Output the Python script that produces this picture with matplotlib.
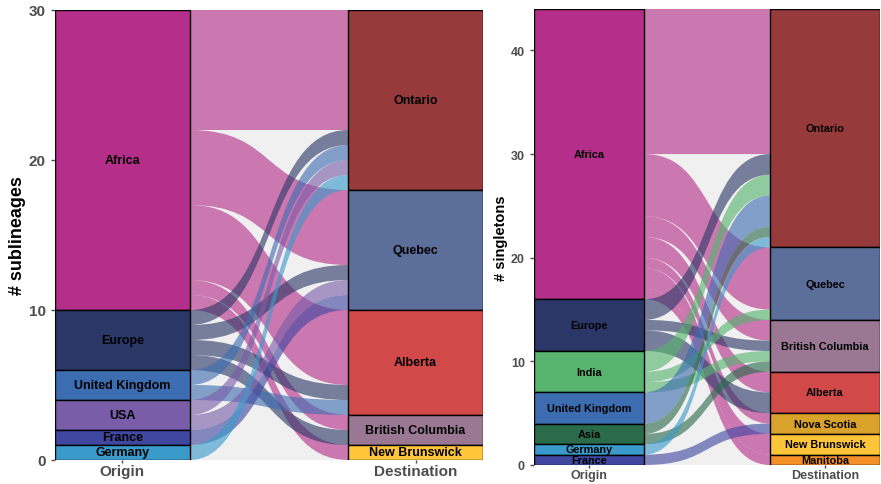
import matplotlib
matplotlib.use("Agg")
import matplotlib.pyplot as plt
from matplotlib.path import Path
from matplotlib.patches import PathPatch, Rectangle

plt.rcParams['font.family'] = ['Liberation Sans', 'DejaVu Sans']

# ---- left panel: sublineages ----
sub_origins = ["Africa", "Europe", "United Kingdom", "USA", "France", "Germany"]
sub_origin_n = [20, 4, 2, 2, 1, 1]
sub_dests = ["Ontario", "Quebec", "Alberta", "British Columbia", "New Brunswick"]
sub_dest_n = [12, 8, 7, 2, 1]
sub_flows = [
    ("Africa", "Ontario", 8), ("Africa", "Quebec", 5), ("Africa", "Alberta", 5),
    ("Africa", "British Columbia", 1), ("Africa", "New Brunswick", 1),
    ("Europe", "Ontario", 1), ("Europe", "Quebec", 1), ("Europe", "Alberta", 1),
    ("Europe", "British Columbia", 1),
    ("United Kingdom", "Ontario", 1), ("United Kingdom", "Alberta", 1),
    ("USA", "Ontario", 1), ("USA", "Quebec", 1),
    ("France", "Quebec", 1),
    ("Germany", "Ontario", 1),
]

# ---- right panel: singletons ----
sing_origins = ["Africa", "Europe", "India", "United Kingdom", "Asia", "Germany", "France"]
sing_origin_n = [28, 5, 4, 3, 2, 1, 1]
sing_dests = ["Ontario", "Quebec", "British Columbia", "Alberta", "Nova Scotia",
              "New Brunswick", "Manitoba"]
sing_dest_n = [23, 7, 5, 4, 2, 2, 1]
sing_flows = [
    ("Africa", "Ontario", 14), ("Africa", "Quebec", 6), ("Africa", "British Columbia", 2),
    ("Africa", "Alberta", 2), ("Africa", "Nova Scotia", 1), ("Africa", "New Brunswick", 2),
    ("Africa", "Manitoba", 1),
    ("Europe", "Ontario", 2), ("Europe", "British Columbia", 1), ("Europe", "Alberta", 2),
    ("India", "Ontario", 2), ("India", "Quebec", 1), ("India", "British Columbia", 1),
    ("United Kingdom", "Ontario", 3),
    ("Asia", "Ontario", 1), ("Asia", "British Columbia", 1),
    ("Germany", "Ontario", 1),
    ("France", "Nova Scotia", 1),
]

colors = {
    "Africa": "#B52E8A", "Europe": "#2B3867", "United Kingdom": "#3D6DB1",
    "USA": "#7A5DA9", "France": "#3F47A0", "Germany": "#3A9BCB",
    "India": "#56B46E", "Asia": "#2A6B4B",
    "Ontario": "#963A3C", "Quebec": "#5C6E9A", "Alberta": "#D2494A",
    "British Columbia": "#9A7894", "New Brunswick": "#FEC53B",
    "Nova Scotia": "#D8A22B", "Manitoba": "#F58F27",
}


def stack(names, sizes):
    total = sum(sizes)
    pos = {}
    top = total
    for n, s in zip(names, sizes):
        pos[n] = (top - s, top)
        top -= s
    return pos


def alluvial(ax, origins, on, dests, dn, flows, w, fs, ylabel, ticks, tfs, lfs):
    total = sum(on)
    opos = stack(origins, on)
    dpos = stack(dests, dn)
    x0, x1 = 1 + w / 2, 2 - w / 2
    xa = x0 + (x1 - x0) * 0.45
    xb = x0 + (x1 - x0) * 0.55

    # position of each flow on the origin side
    otop = {k: v[1] for k, v in opos.items()}
    fo = {}
    for o in origins:
        for d in dests:
            for f in flows:
                if f[0] == o and f[1] == d:
                    fo[(o, d)] = (otop[o] - f[2], otop[o])
                    otop[o] -= f[2]
    # and on the destination side
    dtop = {k: v[1] for k, v in dpos.items()}
    fd = {}
    for d in dests:
        for o in origins:
            for f in flows:
                if f[0] == o and f[1] == d:
                    fd[(o, d)] = (dtop[d] - f[2], dtop[d])
                    dtop[d] -= f[2]

    for o in origins:
        for d in dests:
            if (o, d) not in fo:
                continue
            (ob, ot), (db, dt) = fo[(o, d)], fd[(o, d)]
            verts = [(x0, ot), (xb, ot), (xa, dt), (x1, dt),
                     (x1, db), (xa, db), (xb, ob), (x0, ob), (x0, ot)]
            codes = [Path.MOVETO, Path.CURVE4, Path.CURVE4, Path.CURVE4,
                     Path.LINETO, Path.CURVE4, Path.CURVE4, Path.CURVE4, Path.CLOSEPOLY]
            ax.add_patch(PathPatch(Path(verts, codes), facecolor=colors[o],
                                   edgecolor='none', alpha=0.62, zorder=2))

    for pos, xc in ((opos, 1), (dpos, 2)):
        for name, (b, t) in pos.items():
            ax.add_patch(Rectangle((xc - w / 2, b), w, t - b, facecolor=colors[name],
                                   edgecolor='black', linewidth=1.0, zorder=3))
            ax.text(xc, (b + t) / 2, name, ha='center', va='center', fontsize=fs,
                    fontweight='bold', color='black', zorder=4)

    ax.set_xlim(1 - w / 2, 2 + w / 2)
    ax.set_ylim(0, total)
    ax.set_facecolor('#F0F0F0')
    for s in ax.spines.values():
        s.set_visible(False)
    ax.set_yticks(ticks)
    ax.set_xticks([1, 2])
    ax.set_xticklabels(["Origin", "Destination"])
    ax.tick_params(axis='both', colors='#4D4D4D', labelsize=tfs, length=3, width=1)
    ax.tick_params(axis='x', length=2, pad=1)
    for lab in ax.get_xticklabels() + ax.get_yticklabels():
        lab.set_fontweight('bold')
    ax.set_ylabel(ylabel, fontsize=lfs, fontweight='bold', labelpad=2)


fig = plt.figure(figsize=(8.81, 4.85), dpi=100)
ax1 = fig.add_axes([55 / 881, 24 / 485, 428 / 881, 450 / 485])
ax2 = fig.add_axes([534 / 881, 19 / 485, 346 / 881, 456 / 485])

alluvial(ax1, sub_origins, sub_origin_n, sub_dests, sub_dest_n, sub_flows,
         0.46, 9, "# sublineages", [0, 10, 20, 30], 11, 13)
alluvial(ax2, sing_origins, sing_origin_n, sing_dests, sing_dest_n, sing_flows,
         0.466, 7.8, "# singletons", [0, 10, 20, 30, 40], 9, 10.5)

fig.savefig("out.png", dpi=100)
